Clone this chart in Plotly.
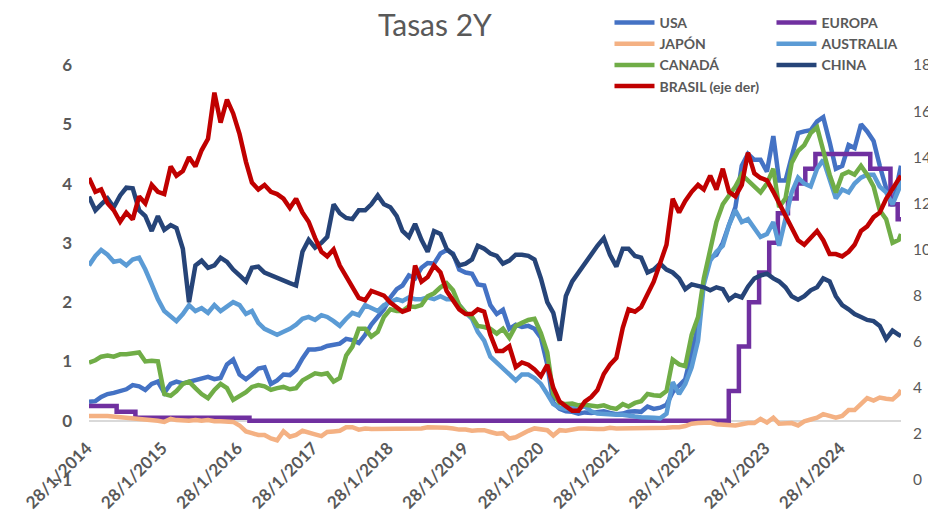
import pandas as pd
import plotly.graph_objects as go

# fechas mensuales (día 28) + último dato
fechas = [pd.Timestamp(2014, 1, 28) + pd.DateOffset(months=k) for k in range(130)]
fechas.append(pd.Timestamp(2024, 11, 8))

usa = [0.32, 0.33, 0.40, 0.45, 0.47, 0.50, 0.53, 0.60, 0.58, 0.52, 0.62, 0.66,
       0.47, 0.62, 0.66, 0.63, 0.66, 0.69, 0.72, 0.74, 0.70, 0.72, 0.95, 1.03,
       0.78, 0.70, 0.78, 0.88, 0.90, 0.62, 0.68, 0.78, 0.77, 0.86, 1.05, 1.20,
       1.20, 1.22, 1.26, 1.28, 1.30, 1.38, 1.36, 1.31, 1.45, 1.62, 1.76, 1.88,
       2.08, 2.22, 2.28, 2.45, 2.40, 2.58, 2.66, 2.65, 2.82, 2.88, 2.82, 2.55,
       2.50, 2.48, 2.30, 2.28, 1.95, 1.80, 1.87, 1.55, 1.62, 1.58, 1.60, 1.55,
       1.40, 0.95, 0.30, 0.20, 0.16, 0.15, 0.12, 0.14, 0.13, 0.15, 0.16, 0.13,
       0.11, 0.12, 0.15, 0.16, 0.15, 0.24, 0.20, 0.22, 0.27, 0.48, 0.58, 0.70,
       1.15, 1.60, 2.35, 2.75, 2.80, 3.00, 3.30, 3.60, 4.30, 4.50, 4.40, 4.40,
       4.20, 4.80, 4.05, 4.05, 4.45, 4.85, 4.88, 4.90, 5.05, 5.12, 4.70, 4.25,
       4.30, 4.65, 4.60, 5.00, 4.88, 4.72, 4.30, 3.92, 3.62, 4.15,
       4.30]

japon = [0.08, 0.07, 0.08, 0.08, 0.07, 0.07, 0.06, 0.05, 0.04, 0.03, 0.01, 0.00,
         -0.02, 0.03, 0.01, 0.00, 0.00, 0.01, 0.00, 0.01, -0.01, -0.01, -0.02, -0.02,
         -0.08, -0.18, -0.21, -0.24, -0.24, -0.30, -0.33, -0.18, -0.27, -0.24, -0.17, -0.19,
         -0.23, -0.26, -0.19, -0.18, -0.17, -0.11, -0.11, -0.15, -0.13, -0.14, -0.14, -0.13,
         -0.13, -0.14, -0.14, -0.13, -0.13, -0.13, -0.11, -0.11, -0.11, -0.12, -0.13, -0.15,
         -0.15, -0.17, -0.16, -0.16, -0.19, -0.22, -0.21, -0.30, -0.28, -0.22, -0.17, -0.13,
         -0.14, -0.16, -0.25, -0.16, -0.17, -0.15, -0.13, -0.13, -0.14, -0.14, -0.14, -0.12,
         -0.13, -0.13, -0.13, -0.13, -0.12, -0.12, -0.12, -0.12, -0.12, -0.11, -0.11, -0.09,
         -0.05, -0.04, -0.03, -0.03, -0.06, -0.07, -0.08, -0.08, -0.06, -0.04, -0.04, 0.03,
         -0.03, 0.05, -0.05, -0.04, -0.04, -0.08, -0.01, 0.02, 0.05, 0.11, 0.07, 0.05,
         0.08, 0.18, 0.18, 0.29, 0.38, 0.34, 0.39, 0.37, 0.36, 0.45,
         0.52]

canada = [0.98, 1.02, 1.08, 1.10, 1.08, 1.12, 1.12, 1.13, 1.15, 1.00, 1.01, 1.00,
          0.45, 0.42, 0.50, 0.62, 0.66, 0.55, 0.45, 0.38, 0.52, 0.62, 0.55, 0.35,
          0.42, 0.48, 0.57, 0.60, 0.58, 0.52, 0.55, 0.57, 0.53, 0.55, 0.68, 0.75,
          0.80, 0.78, 0.80, 0.66, 0.72, 1.10, 1.25, 1.55, 1.55, 1.42, 1.50, 1.75,
          1.88, 1.85, 1.85, 1.93, 1.92, 1.95, 2.10, 2.15, 2.25, 2.32, 2.20, 1.95,
          1.82, 1.75, 1.60, 1.58, 1.55, 1.47, 1.55, 1.40, 1.60, 1.65, 1.70, 1.72,
          1.48, 1.15, 0.45, 0.30, 0.28, 0.29, 0.26, 0.27, 0.25, 0.24, 0.26, 0.22,
          0.20, 0.28, 0.24, 0.30, 0.33, 0.45, 0.43, 0.42, 0.50, 1.03, 0.95, 0.92,
          1.45, 1.75, 2.40, 2.90, 3.35, 3.65, 3.80, 3.95, 4.15, 4.05, 3.95, 3.85,
          4.00, 4.25, 3.60, 3.75, 4.35, 4.55, 4.65, 4.85, 4.95, 4.55, 4.15, 3.85,
          4.15, 4.20, 4.15, 4.30, 4.15, 3.95, 3.55, 3.40, 3.00, 3.05,
          3.15]

australia = [2.62, 2.78, 2.88, 2.80, 2.68, 2.70, 2.62, 2.72, 2.75, 2.55, 2.30, 2.05,
             1.85, 1.75, 1.68, 1.80, 1.95, 1.85, 1.90, 1.82, 1.95, 1.85, 1.92, 2.00,
             1.95, 1.80, 1.85, 1.65, 1.55, 1.50, 1.45, 1.50, 1.55, 1.62, 1.72, 1.75,
             1.70, 1.78, 1.75, 1.68, 1.60, 1.72, 1.82, 1.78, 1.95, 1.90, 1.85, 1.95,
             2.00, 2.05, 2.02, 2.08, 2.05, 2.05, 2.08, 2.05, 2.10, 2.05, 2.05, 1.95,
             1.82, 1.72, 1.50, 1.35, 1.08, 0.98, 0.90, 0.78, 0.68, 0.78, 0.78, 0.72,
             0.62, 0.45, 0.28, 0.22, 0.20, 0.24, 0.22, 0.24, 0.16, 0.12, 0.11, 0.10,
             0.10, 0.10, 0.08, 0.07, 0.06, 0.06, 0.05, 0.04, 0.12, 0.65, 0.45, 0.62,
             0.90, 1.35, 2.30, 2.70, 2.85, 2.95, 3.30, 3.55, 3.35, 3.40, 3.25, 3.10,
             3.15, 3.35, 2.95, 3.40, 3.85, 4.10, 4.00, 3.95, 4.25, 4.40, 4.05, 3.75,
             3.90, 3.85, 4.00, 4.10, 4.15, 4.15, 3.95, 3.85, 3.65, 3.90,
             4.12]

china = [3.78, 3.55, 3.65, 3.75, 3.60, 3.80, 3.93, 3.92, 3.55, 3.45, 3.20, 3.45,
         3.22, 3.30, 3.25, 2.90, 2.00, 2.62, 2.70, 2.58, 2.62, 2.75, 2.68, 2.55,
         2.45, 2.35, 2.58, 2.60, 2.50, 2.45, 2.40, 2.35, 2.32, 2.28, 2.85, 3.05,
         2.92, 3.00, 3.10, 3.65, 3.50, 3.42, 3.40, 3.55, 3.55, 3.65, 3.80, 3.65,
         3.60, 3.45, 3.20, 3.10, 3.32, 3.05, 2.85, 3.20, 3.15, 2.90, 2.80, 2.62,
         2.65, 2.72, 2.95, 2.90, 2.82, 2.78, 2.65, 2.70, 2.80, 2.80, 2.78, 2.72,
         2.40, 2.00, 1.82, 1.35, 2.10, 2.35, 2.50, 2.65, 2.82, 2.95, 3.08, 2.80,
         2.60, 2.90, 2.90, 2.78, 2.75, 2.50, 2.55, 2.65, 2.55, 2.50, 2.40, 2.22,
         2.30, 2.28, 2.25, 2.20, 2.25, 2.22, 2.04, 2.12, 2.08, 2.26, 2.40, 2.45,
         2.48, 2.40, 2.35, 2.25, 2.10, 2.04, 2.10, 2.20, 2.25, 2.40, 2.35, 2.10,
         1.95, 1.88, 1.80, 1.75, 1.70, 1.68, 1.60, 1.38, 1.52, 1.45,
         1.43]

brasil = [13.1, 12.5, 12.6, 12.0, 11.7, 11.2, 11.6, 11.3, 12.3, 12.0, 12.8, 12.5,
          12.4, 13.6, 13.2, 13.4, 14.0, 13.6, 14.3, 14.8, 16.8, 15.5, 16.5, 15.9,
          15.0, 13.8, 12.9, 12.6, 12.8, 12.5, 12.4, 12.2, 11.8, 12.2, 11.6, 11.2,
          10.5, 9.9, 9.7, 10.0, 9.3, 8.8, 8.4, 7.9, 7.8, 8.2, 8.1, 8.0,
          7.7, 7.5, 7.3, 7.4, 9.3, 8.6, 8.8, 9.3, 9.0, 8.2, 7.8, 7.4,
          7.2, 7.2, 7.4, 7.3, 6.3, 5.6, 5.6, 5.8, 4.9, 5.1, 5.0, 4.8,
          4.5, 5.0, 4.0, 3.4, 3.2, 3.0, 3.0, 3.4, 3.6, 3.9, 4.6, 5.0,
          5.3, 6.6, 7.4, 7.3, 7.5, 8.1, 8.6, 9.4, 10.2, 12.2, 11.6, 12.1,
          12.5, 12.8, 12.6, 13.2, 12.6, 13.5, 12.5, 12.3, 12.8, 14.2, 13.3, 13.1,
          13.0, 12.5, 12.0, 11.5, 10.9, 10.4, 10.2, 10.5, 10.8, 10.4, 9.8, 9.8,
          9.7, 9.9, 10.2, 10.8, 11.0, 11.4, 11.6, 12.2, 12.6, 13.0,
          13.2]

# tasa BCE en escalones
europa_fechas = ["2014-01-28", "2014-06-11", "2014-09-10", "2016-03-16", "2022-07-27",
                 "2022-09-14", "2022-11-02", "2022-12-21", "2023-02-08", "2023-03-22",
                 "2023-05-10", "2023-06-21", "2023-08-02", "2023-09-20", "2024-06-12",
                 "2024-09-18", "2024-10-23", "2024-11-08"]
europa = [0.25, 0.15, 0.05, 0.0, 0.5, 1.25, 2.0, 2.5, 3.0, 3.5, 3.75, 4.0, 4.25, 4.5,
          4.25, 3.65, 3.4, 3.4]

anios = list(range(2014, 2025))
ticks_x = [f"{a}-01-28" for a in anios]
ticks_txt = [f"28/1/{a}" for a in anios]

gris = "#595959"
fig = go.Figure()

def linea(x, y, nombre, color, leyenda, eje="y", forma="linear"):
    fig.add_trace(go.Scatter(
        x=x, y=y, name=nombre, mode="lines", yaxis=eje, legend=leyenda,
        line=dict(color=color, width=4.5, shape=forma)))

linea(fechas, usa, "USA", "#4472C4", "legend")
linea(europa_fechas, europa, "EUROPA", "#7030A0", "legend2", forma="hv")
linea(fechas, japon, "JAPÓN", "#F4B183", "legend")
linea(fechas, australia, "AUSTRALIA", "#5B9BD5", "legend2")
linea(fechas, canada, "CANADÁ", "#70AD47", "legend")
linea(fechas, china, "CHINA", "#264478", "legend2")
linea(fechas, brasil, "BRASIL (eje der)", "#C00000", "legend", eje="y2")

leg = dict(xanchor="left", yanchor="top", bgcolor="rgba(0,0,0,0)", itemwidth=40,
           font=dict(family="Lato", size=14, color=gris, weight="bold"))

# la página deja 8px de margen, por eso 928x512
fig.update_layout(
    width=928, height=512,
    margin=dict(l=81, r=35, t=57, b=40, autoexpand=False),
    paper_bgcolor="white", plot_bgcolor="white",
    font=dict(family="Lato", color=gris),
    title=dict(text="Tasas 2Y", x=0.460, xanchor="center", y=1.0, yanchor="top",
               pad=dict(t=7), font=dict(size=30, color=gris)),
    xaxis=dict(type="date", range=["2014-01-28", "2024-11-08"], anchor="free",
               position=1 / 7, showline=True, linecolor="#D9D9D9", linewidth=2,
               tickvals=ticks_x, ticktext=ticks_txt, tickangle=-45, showgrid=False,
               ticks="", ticklabelstandoff=10, ticklabelshift=-2, layer="below traces",
               tickfont=dict(size=17, color=gris, weight="bold")),
    yaxis=dict(range=[-1, 6], dtick=1, showgrid=False, zeroline=False,
               ticklabelstandoff=16, tickfont=dict(size=17, color=gris, weight="bold")),
    yaxis2=dict(range=[0, 18], dtick=2, overlaying="y", side="right", showgrid=False,
                zeroline=False, ticklabelstandoff=11, tickfont=dict(size=15.5, color=gris)),
    legend=dict(x=0.641, y=1.14, **leg),
    legend2=dict(x=0.8405, y=1.14, **leg),
)

fig.write_html("out.html")
